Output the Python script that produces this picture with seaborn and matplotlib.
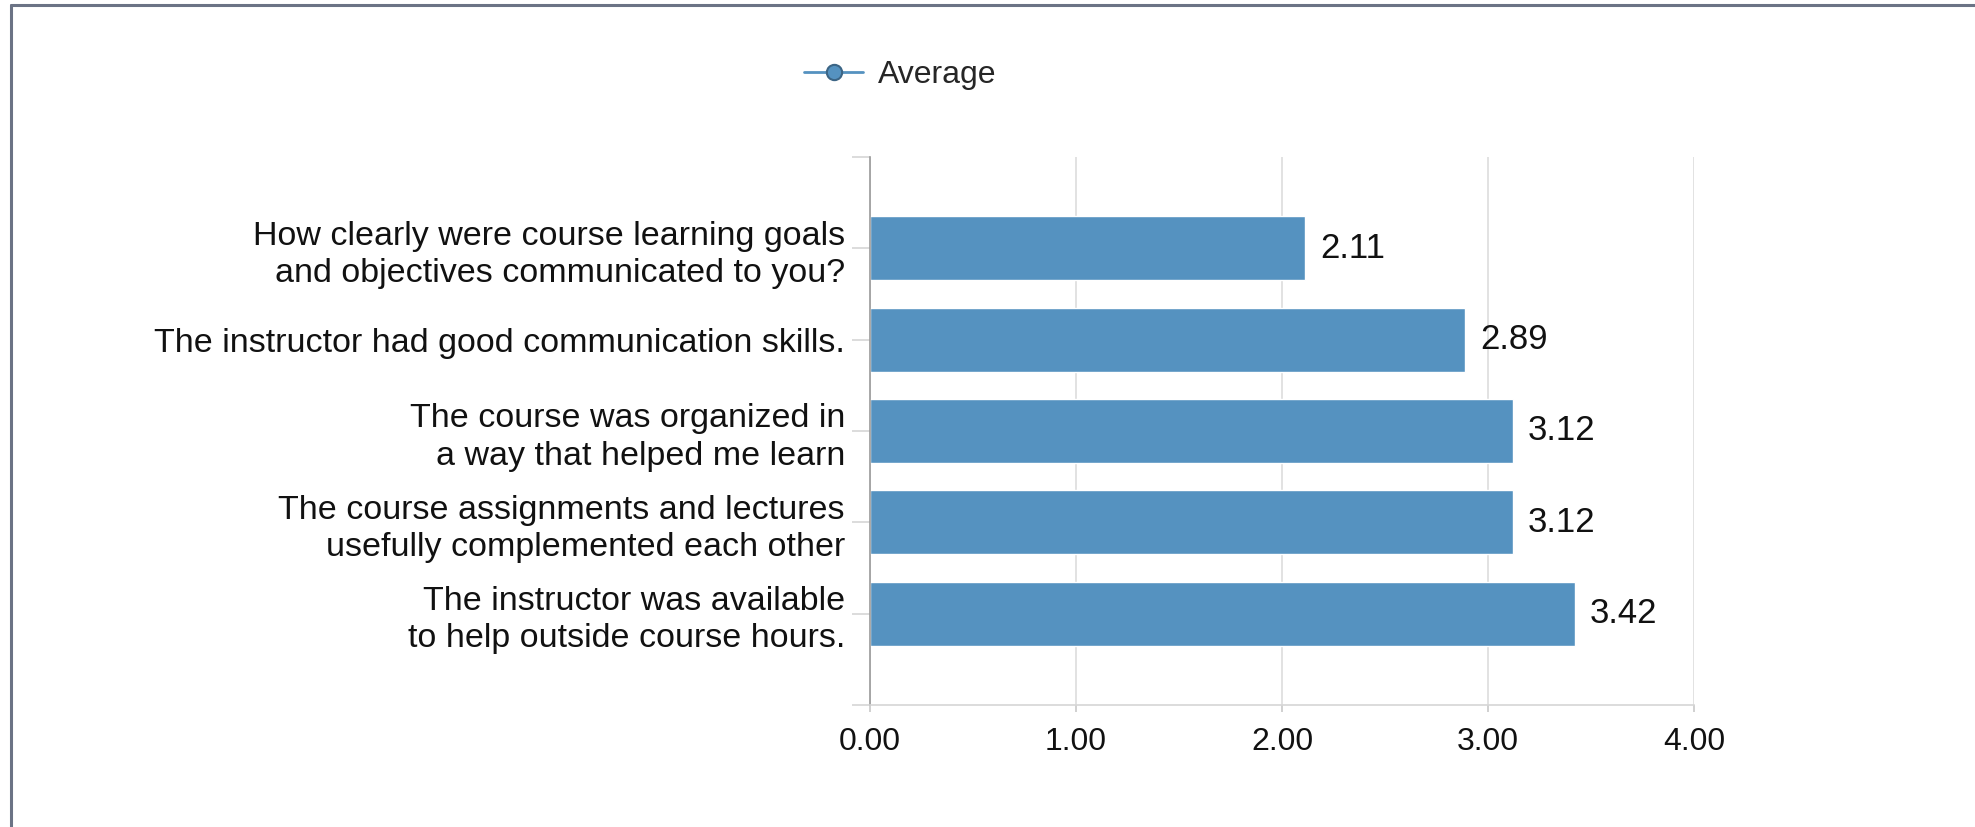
import matplotlib
matplotlib.use("Agg")
import matplotlib.pyplot as plt
from matplotlib.lines import Line2D
import seaborn as sns
import pandas as pd

questions = [
    "How clearly were course learning goals\nand objectives communicated to you?",
    "The instructor had good communication skills.",
    "The course was organized in\na way that helped me learn",
    "The course assignments and lectures\nusefully complemented each other",
    "The instructor was available\nto help outside course hours.",
]
averages = [2.11, 2.89, 3.12, 3.12, 3.42]
x_ticks = [0, 1, 2, 3, 4]

df = pd.DataFrame({"question": questions, "average": averages})

sns.set_theme(style="white")
plt.rcParams["font.family"] = ["Liberation Sans", "DejaVu Sans"]

bar_color = "#5592c0"

fig = plt.figure(figsize=(19.75, 8.27), dpi=100)
ax = fig.add_axes([870 / 1975, 1 - 705 / 827, 824 / 1975, 548 / 827])

sns.barplot(data=df, x="average", y="question", color=bar_color,
            saturation=1, width=0.7, ax=ax)

# value labels next to bars
ax.bar_label(ax.containers[0], labels=[f"{v:.2f}" for v in averages],
             padding=11, fontsize=25, color="#111111")

ax.set_xlim(0, 4)
ax.set_ylim(5, -1)
ax.set_xticks(x_ticks)
ax.set_xticklabels([f"{t:.2f}" for t in x_ticks])
ax.set_xlabel("")
ax.set_ylabel("")

ax.grid(axis="x", color="#dddddd", linewidth=1.2)
ax.set_axisbelow(True)
for side in ["top", "right"]:
    ax.spines[side].set_visible(False)
ax.spines["left"].set_color("#9a9a9a")
ax.spines["left"].set_linewidth(1.2)
ax.spines["bottom"].set_color("#d6d6d6")
ax.spines["bottom"].set_linewidth(1.2)

ax.tick_params(axis="y", length=13, width=1.2, color="#d6d6d6", pad=5,
               labelsize=24.5, labelcolor="#111111", left=True)
for lbl in ax.get_yticklabels():
    lbl.set_linespacing(1.25)
ax.set_yticks([-1, 5], minor=True)
ax.tick_params(axis="y", which="minor", length=13, width=1.2,
               color="#d6d6d6", left=True)
ax.tick_params(axis="x", length=5, width=1.2, color="#c8c8c8", pad=11,
               labelsize=23, labelcolor="#111111", bottom=True)

# legend above plot
handle = Line2D([], [], color=bar_color, linewidth=2, marker="o",
                markersize=11, markerfacecolor=bar_color,
                markeredgecolor="#3c6585", markeredgewidth=1.5)
fig.legend([handle], ["Average"], loc="center left",
           bbox_to_anchor=(804 / 1975, 1 - 75 / 827), frameon=False,
           fontsize=23, handlelength=1.85, handletextpad=0.45,
           borderpad=0, borderaxespad=0)

# outer frame (left and top edges)
frame_color = "#6b7385"
xl = 11 / 1975
yt = 1 - 5 / 827
fig.add_artist(Line2D([xl, xl], [0, yt], transform=fig.transFigure,
                      color=frame_color, linewidth=2.2))
fig.add_artist(Line2D([xl, 1], [yt, yt], transform=fig.transFigure,
                      color=frame_color, linewidth=2.2))

fig.savefig("out.png", dpi=100, facecolor="white")
